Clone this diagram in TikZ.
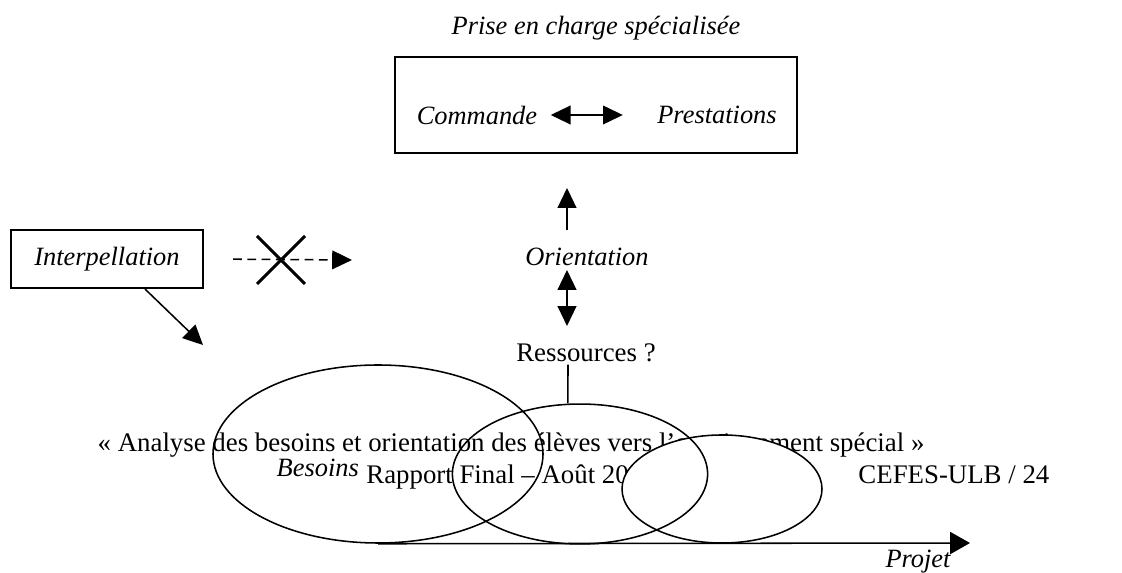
\documentclass[tikz,border=0pt]{standalone}
\usepackage{fontspec}
\setmainfont{Liberation Serif}
\usepackage{tikz}
\usetikzlibrary{arrows.meta, positioning, shapes.geometric}

\tikzset{
    fleche/.style={-{Triangle[length=9pt, width=8.5pt]}, line width=0.7pt},
    dfleche/.style={{Triangle[length=9pt, width=8.5pt]}-{Triangle[length=9pt, width=8.5pt]}, line width=0.7pt},
    cadre/.style={draw=black, line width=0.9pt, inner sep=1pt},
    etiquette/.style={font=\fontsize{12}{14}\selectfont\itshape, inner sep=1pt},
    texte/.style={font=\fontsize{12.2}{14}\selectfont, inner sep=1pt},
    bulle/.style={draw=black, ellipse, line width=0.7pt, inner sep=0pt}
}

\begin{document}
\begin{tikzpicture}[x=0.4545pt, y=-0.4545pt, font=\fontsize{12}{14}\selectfont]
        \useasboundingbox (0,0) rectangle (1122,573);

        % --- Prise en charge specialisee ---
        \node[etiquette] (titre) at (596,28) {Prise en charge spécialisée};
        \node[cadre, minimum width=182.7pt, minimum height=43.2pt] (prise) at (596,105) {};
        \node[etiquette] (commande) at (477,115) {Commande};
        \node[etiquette] (prestations) at (717,115) {Prestations};
        \draw[dfleche, shorten <=5pt, shorten >=14.5pt] (commande.east) -- (prestations.west);

        % --- Orientation / Ressources ---
        \node[etiquette] (orientation) at (587,257) {Orientation};
        \node[texte] (ressources) at (586,353) {Ressources ?};
        \coordinate (haut) at (567,188);
        \draw[fleche] (haut |- orientation.north) ++(0,-15) -- (haut);
        \draw[dfleche] (567,270) -- (567,326);

        % --- Interpellation ---
        \node[cadre, minimum width=87.7pt, minimum height=26.4pt] (interp) at (107,259) {};
        \node[etiquette] (interptxt) at (interp) {Interpellation};
        \coordinate (cible) at (203,345);
        \coordinate (bout) at (352,260);
        \coordinate (croix) at (281,260);
        \draw[fleche] (interp.south -| 145,0) -- (cible);
        \draw[fleche, dash pattern=on 4pt off 2.5pt, shorten <=13pt] (interp.east) -- (bout);
        \draw[line width=1.4pt] (croix) ++(-24,-24) -- ++(48,48);
        \draw[line width=1.4pt] (croix) ++(-24,24) -- ++(48,-48);

        % --- Bas de page (sous les ellipses) ---
        \node[texte, anchor=base] (analyse) at (511,452) {« Analyse des besoins et orientation des élèves vers l’enseignement spécial »};
        \node[texte, anchor=base] (rapport) at (511,484) {Rapport Final – Août 2006};
        \node[texte, anchor=base east] (cefes) at (1052,484) {CEFES-ULB / 24};
        \node[etiquette, anchor=base east] (besoins) at ([xshift=-1pt, yshift=3.5pt]rapport.base west) {Besoins};

        % --- Ellipses ---
        \node[bulle, fill=white, minimum width=90.9pt, minimum height=49.1pt] (e3) at (722,489) {};
        \node[bulle, minimum width=150pt, minimum height=80.9pt] (e1) at (378,454) {};
        \node[bulle, minimum width=116pt, minimum height=63.6pt] (e2) at (580,474) {};
        \draw[line width=0.7pt] (ressources.south -| 568,0) -- ([xshift=-5.5pt]e2.north);

        % --- Axe du projet ---
        \coordinate (fin) at (970,543);
        \draw[-{Triangle[length=9pt, width=10pt]}, line width=0.7pt] (e1.south) -- (fin);
        \node[etiquette] (projet) at (918,562) {Projet};
\end{tikzpicture}
\end{document}
